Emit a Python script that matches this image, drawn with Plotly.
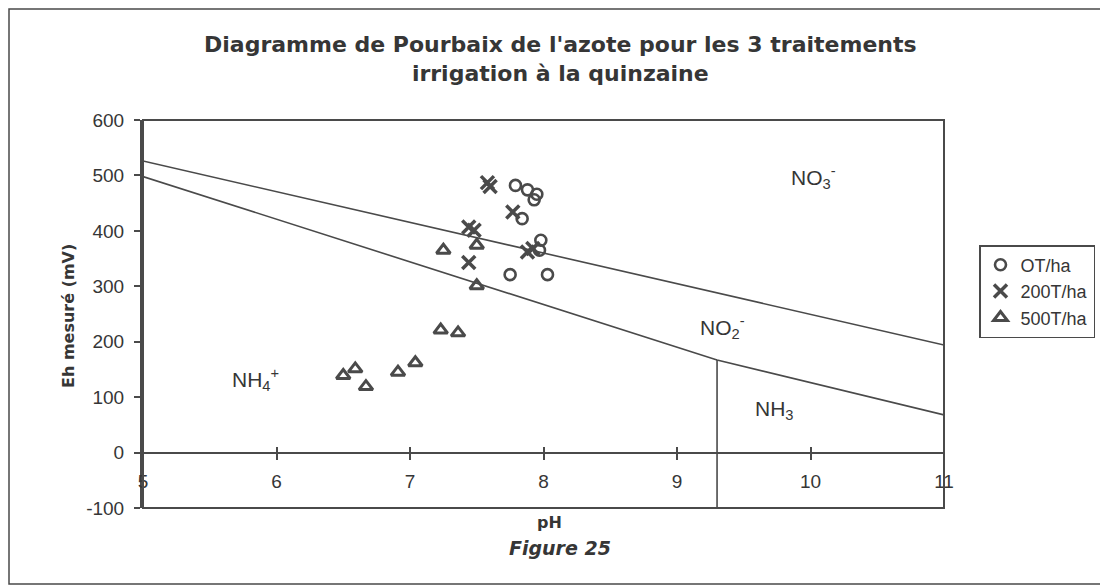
import plotly.graph_objects as go

# ---- data ----
ot_ph = [7.79, 7.88, 7.95, 7.93, 7.84, 7.98, 7.97, 7.75, 8.03]
ot_eh = [482, 474, 466, 456, 422, 383, 365, 321, 321]

t200_ph = [7.58, 7.60, 7.77, 7.44, 7.48, 7.44, 7.88, 7.92]
t200_eh = [487, 480, 434, 407, 401, 343, 362, 368]

t500_ph = [7.25, 7.50, 7.50, 7.23, 7.36, 7.04, 6.91, 6.59, 6.50, 6.67]
t500_eh = [365, 374, 301, 221, 216, 162, 145, 151, 139, 119]

# boundary lines of the diagram
no3_no2_ph = [5, 11]
no3_no2_eh = [526, 194]
no2_nh4_ph = [5, 9.3, 11]
no2_nh4_eh = [498, 167, 68]
nh4_nh3_ph = [9.3, 9.3]
nh4_nh3_eh = [-100, 167]

x_ticks = [5, 6, 7, 8, 9, 10, 11]
y_ticks = [-100, 0, 100, 200, 300, 400, 500, 600]
y_tick_text = ["-100", "0", "100", "200", "300", "400", "500", "600"]

region_labels = ["NO<sub>3</sub><sup>-</sup>", "NO<sub>2</sub><sup>-</sup>",
                 "NH<sub>4</sub><sup>+</sup>", "NH<sub>3</sub>"]
region_ph = [10.02, 9.34, 5.84, 9.73]
region_eh = [497, 226, 132, 76]

INK = "#4a4a4a"
TXT = "#363636"
FONT = "Liberation Sans, Arial, sans-serif"
HEAVY = "DejaVu Sans, Liberation Sans, sans-serif"

# plot area in window pixels (page body has an 8px margin)
L, R, T, B = 143, 944, 120, 508
W, H = R - L, B - T


def px(xw):
    return (xw - L) / W


def py(yw):
    return (B - yw) / H


fig = go.Figure()

for xs, ys in [(no3_no2_ph, no3_no2_eh), (no2_nh4_ph, no2_nh4_eh), (nh4_nh3_ph, nh4_nh3_eh)]:
    fig.add_trace(go.Scatter(x=xs, y=ys, mode="lines", line=dict(color=INK, width=1.6),
                             showlegend=False, hoverinfo="skip"))

fig.add_trace(go.Scatter(x=ot_ph, y=ot_eh, mode="markers", name="OT/ha",
                         marker=dict(symbol="circle-open", size=11, color=INK,
                                     line=dict(width=2.6, color=INK))))
fig.add_trace(go.Scatter(x=t200_ph, y=t200_eh, mode="markers", name="200T/ha",
                         marker=dict(symbol="x-thin-open", size=13, color=INK,
                                     line=dict(width=3.5, color=INK))))
fig.add_trace(go.Scatter(x=t500_ph, y=t500_eh, mode="markers", name="500T/ha",
                         marker=dict(symbol="triangle-up-open", size=12, color=INK,
                                     line=dict(width=3, color=INK))))

# invisible trace to carry the crossing tick marks
fig.add_trace(go.Scatter(x=[5, 11], y=[0, 0], xaxis="x2", mode="lines",
                         line=dict(width=0), showlegend=False, hoverinfo="skip"))

pos0 = (0 - y_ticks[0]) / (y_ticks[-1] - y_ticks[0])

annotations = [
    dict(text="<b>Diagramme de Pourbaix de l'azote pour les 3 traitements</b><br>"
              "<b>irrigation à la quinzaine</b>",
         xref="paper", yref="paper", x=px(560), y=py(59),
         showarrow=False, font=dict(family=HEAVY, size=22, color=TXT),
         xanchor="center", yanchor="middle", align="center"),
    dict(text="<b>Eh mesuré (mV)</b>", xref="paper", yref="paper", x=px(68), y=py(316),
         textangle=-90, showarrow=False, font=dict(family=HEAVY, size=16, color=TXT),
         xanchor="center", yanchor="middle"),
    dict(text="<b>pH</b>", xref="paper", yref="paper", x=px(549), y=py(522),
         showarrow=False, font=dict(family=HEAVY, size=16, color=TXT),
         xanchor="center", yanchor="middle"),
    dict(text="<b><i>Figure 25</i></b>", xref="paper", yref="paper", x=px(560),
         y=py(548), showarrow=False, font=dict(family=HEAVY, size=19, color=TXT),
         xanchor="center", yanchor="middle"),
]
for t, xx, yy in zip(region_labels, region_ph, region_eh):
    annotations.append(dict(text=t, x=xx, y=yy, xref="x", yref="y", showarrow=False,
                            font=dict(family=FONT, size=21, color=TXT),
                            xanchor="center", yanchor="middle"))

fig.update_layout(
    width=1100, height=577,
    margin=dict(l=L - 8, r=8 + 1100 - R, t=T - 8, b=8 + 577 - B),
    paper_bgcolor="white", plot_bgcolor="white",
    font=dict(family=FONT, color=TXT),
    showlegend=True,
    legend=dict(x=px(979), y=py(245), xanchor="left", yanchor="top",
                bordercolor=INK, borderwidth=1.5, font=dict(size=18, family=FONT, color=TXT),
                itemwidth=30, tracegroupgap=0, bgcolor="white"),
    xaxis=dict(range=[5, 11], tickvals=x_ticks, ticktext=[str(v) for v in x_ticks],
               anchor="free", position=pos0, showline=False, showgrid=False, zeroline=False,
               ticks="outside", ticklen=6, tickwidth=1.5, tickcolor=INK,
               ticklabelstandoff=6, tickfont=dict(size=19, family=FONT, color=TXT)),
    xaxis2=dict(range=[5, 11], tickvals=x_ticks, overlaying="x", anchor="free", position=pos0,
                showline=False, showgrid=False, zeroline=False, ticks="inside", ticklen=6,
                tickwidth=1.5, tickcolor=INK, showticklabels=False),
    yaxis=dict(range=[-100, 600], tickvals=y_ticks, ticktext=y_tick_text, showgrid=False,
               zeroline=True, zerolinecolor=INK, zerolinewidth=1.6,
               showline=True, linecolor=INK, linewidth=3,
               ticks="outside", ticklen=6, tickwidth=1.5, tickcolor=INK,
               ticklabelstandoff=6,
               tickfont=dict(size=19, family=FONT, color=TXT)),
    annotations=annotations,
    shapes=[
        dict(type="rect", xref="x domain", yref="y domain", x0=0, x1=1, y0=0, y1=1,
             line=dict(color=INK, width=2), layer="above"),
        dict(type="rect", xref="paper", yref="paper",
             x0=px(9), x1=px(1106), y0=py(584), y1=py(9),
             line=dict(color=INK, width=1.5)),
    ],
)

fig.write_html("out.html")
